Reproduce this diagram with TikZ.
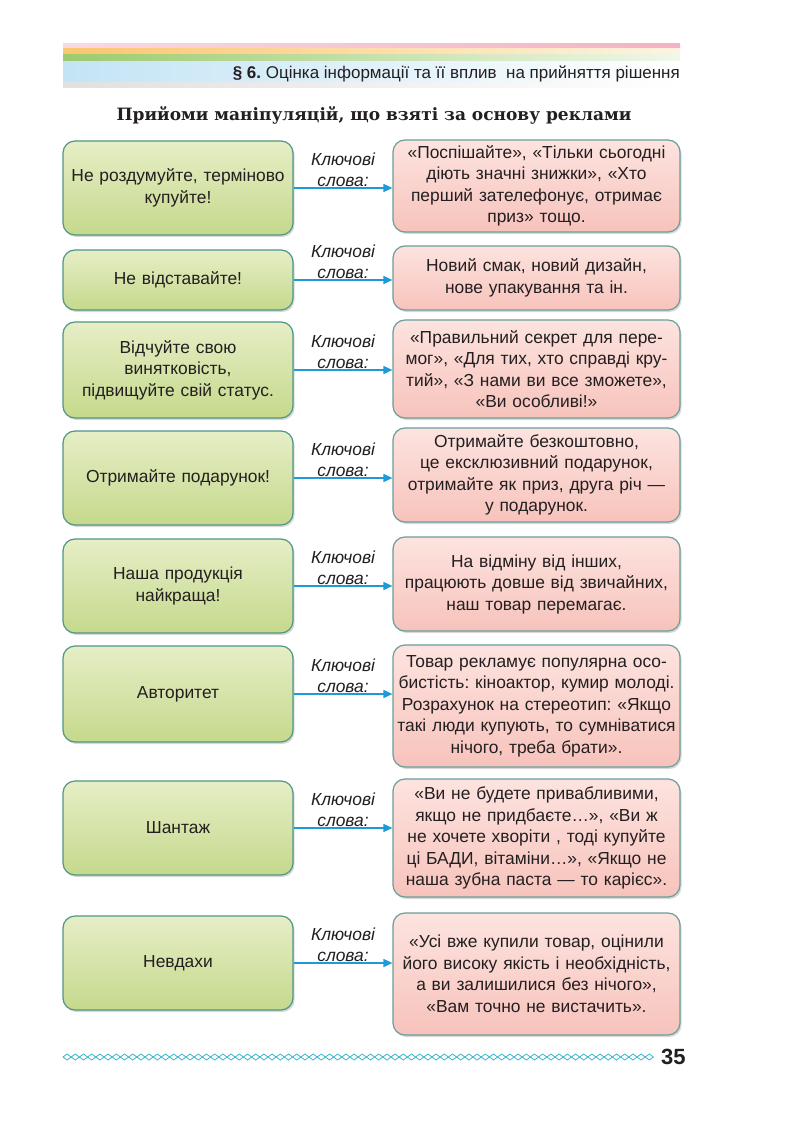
\documentclass[tikz,border=0pt]{standalone}
\usepackage{fontspec}
\setmainfont{Liberation Sans}
\newfontfamily\headserif{DejaVu Serif}
\usepackage{tikz}
\usetikzlibrary{arrows.meta,shadows}
\definecolor{inktext}{HTML}{231F20}
\definecolor{arrowblue}{HTML}{1E9AD6}
\definecolor{greentop}{HTML}{E6EEC6}
\definecolor{greenbot}{HTML}{C5D98C}
\definecolor{greenedge}{HTML}{4F9686}
\definecolor{pinktop}{HTML}{FDE3DF}
\definecolor{pinkbot}{HTML}{F7C3BC}
\definecolor{pinkedge}{HTML}{6A9E9A}
\definecolor{bandpink}{HTML}{F3B3C3}
\definecolor{bandyellow}{HTML}{FAC66E}
\definecolor{bandgreen}{HTML}{9CCB6E}
\definecolor{bandblue}{HTML}{C3E4F5}
\definecolor{bandlilac}{HTML}{C8A8D8}
\definecolor{chainteal}{HTML}{3DB5CB}
\frenchspacing

\begin{document}
\begin{tikzpicture}[x=1pt,y=-1pt,font=\fontsize{17.4}{21.5}\selectfont,text=inktext,
    gbox/.style={draw=greenedge,line width=1.2pt,rounded corners=12pt,top color=greentop,bottom color=greenbot,
      minimum width=230pt,text width=226pt,inner sep=2pt,align=center,
      drop shadow={shadow xshift=1.5pt,shadow yshift=-2pt,opacity=0.3}},
    pbox/.style={draw=pinkedge,line width=1.2pt,rounded corners=12pt,top color=pinktop,bottom color=pinkbot,
      minimum width=287pt,text width=285pt,inner sep=1pt,align=center,
      drop shadow={shadow xshift=1.5pt,shadow yshift=-2pt,opacity=0.3}},
    link/.style={draw=arrowblue,line width=1.6pt,-{Triangle[length=9pt,width=8pt]}},
    kw/.style={font=\fontsize{17.4}{20.5}\selectfont\itshape,align=center,inner sep=1pt}]
  \useasboundingbox[fill=white] (0,0) rectangle (794,1123);

  % running head
  \fill[left color=bandpink!50,right color=bandpink] (63,44) rectangle (680,49);
  \fill[left color=bandyellow,right color=bandyellow!20] (63,49) rectangle (680,55);
  \fill[left color=bandgreen,right color=bandgreen!15] (63,55) rectangle (680,62);
  \fill[left color=bandblue,right color=white] (63,62) rectangle (680,82);
  \fill[left color=black!12,middle color=bandlilac!80,right color=white] (63,83) rectangle (680,88);
  \node[anchor=base east,inner sep=0pt,font=\fontsize{17}{19}\selectfont] (runhead) at (680,79)
    {\textbf{§ 6.} Оцінка інформації та її вплив~ на прийняття рішення};

  \node[font=\headserif\bfseries\fontsize{17}{21}\selectfont] (title) at (374,115)
    {Прийоми маніпуляцій, що взяті за основу реклами};

  % left column
  \node[gbox,minimum height=94pt] (g1) at (178,188) {Не роздумуйте, терміново\\купуйте!};
  \node[gbox,minimum height=60pt] (g2) at (178,280) {Не відставайте!};
  \node[gbox,minimum height=96pt] (g3) at (178,370) {Відчуйте свою\\винятковість,\\підвищуйте свій статус.};
  \node[gbox,minimum height=94pt] (g4) at (178,478) {Отримайте подарунок!};
  \node[gbox,minimum height=94pt] (g5) at (178,586) {Наша продукція\\найкраща!};
  \node[gbox,minimum height=96pt] (g6) at (178,694) {Авторитет};
  \node[gbox,minimum height=94pt] (g7) at (178,828) {Шантаж};
  \node[gbox,minimum height=94pt] (g8) at (178,963) {Невдахи};

  % right column
  \node[pbox,minimum height=92pt] (p1) at (536.5,186)
    {«Поспішайте», «Тільки сьогодні\\діють значні знижки», «Хто\\перший зателефонує, отримає\\приз» тощо.};
  \node[pbox,minimum height=64pt] (p2) at (536.5,278)
    {Новий смак, новий дизайн,\\нове упакування та ін.};
  \node[pbox,minimum height=98pt] (p3) at (536.5,369)
    {«Правильний секрет для пере-\\мог», «Для тих, хто справді кру-\\тий», «З нами ви все зможете»,\\«Ви особливі!»};
  \node[pbox,minimum height=94pt] (p4) at (536.5,475)
    {Отримайте безкоштовно,\\це ексклюзивний подарунок,\\отримайте як приз, друга річ —\\у подарунок.};
  \node[pbox,minimum height=94pt] (p5) at (536.5,584)
    {На відміну від інших,\\працюють довше від звичайних,\\наш товар перемагає.};
  \node[pbox,minimum height=122pt] (p6) at (536.5,706)
    {Товар рекламує популярна осо-\\бистість: кіноактор, кумир молоді.\\Розрахунок на стереотип: «Якщо\\такі люди купують, то сумніватися\\нічого, треба брати».};
  \node[pbox,minimum height=118pt] (p7) at (536.5,838)
    {«Ви не будете привабливими,\\якщо не придбаєте…», «Ви ж\\не хочете хворіти , тоді купуйте\\ці БАДИ, вітаміни…», «Якщо не\\наша зубна паста — то карієс».};
  \node[pbox,minimum height=122pt] (p8) at (536.5,974)
    {«Усі вже купили товар, оцінили\\його високу якість і необхідність,\\а ви залишилися без нічого»,\\«Вам точно не вистачить».};

  \foreach \r in {1,...,8}
    \draw[link] (g\r.east) -- (g\r.east -| p\r.west) node[kw,midway,above] {Ключові\\слова:};

  % footer
  \foreach \k in {0,...,71}
    \draw[chainteal,line width=0.8pt] ({63+8.2*\k},1057) -- ++(4.1,-3) -- ++(4.1,3) -- ++(-4.1,3) -- cycle;
  \node[anchor=west,inner sep=0pt,font=\bfseries\fontsize{22}{24}\selectfont] (pagenum) at (661,1057) {35};
\end{tikzpicture}
\end{document}
